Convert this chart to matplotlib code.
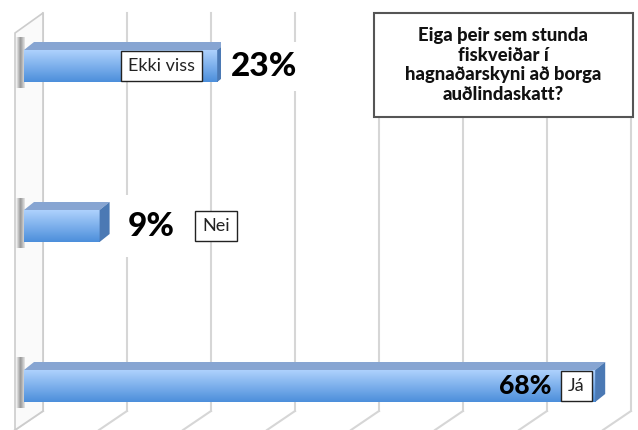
import numpy as np
import matplotlib.pyplot as plt
from matplotlib.patches import Polygon, Rectangle

# data
categories = ['Já', 'Nei', 'Ekki viss']
values = [68, 9, 23]
value_labels = ['68%', '9%', '23%']
grid_ticks = [0, 10, 20, 30, 40, 50, 60, 70]
title = 'Eiga þeir sem stunda\nfiskveiðar í\nhagnaðarskyni að borga\nauðlindaskatt?'

W, H = 638, 430
fig = plt.figure(figsize=(W / 100, H / 100), dpi=100)
ax = fig.add_axes([0, 0, 1, 1])
ax.set_xlim(-43 / 8.4, (W - 43) / 8.4)
ax.set_ylim(-(H - 386) / 160, 386 / 160)
ax.axis('off')

sx = 1 / 8.4   # x data units per pixel
sy = 1 / 160   # y data units per pixel
ytop = ax.get_ylim()[1]


def py(p):
    # pixel row -> y data
    return ytop - p * sy


grid_c = '#d6d6d6'
# back wall gridlines + floor diagonals
for t in grid_ticks:
    ax.plot([t, t], [py(13), py(411)], color=grid_c, lw=1.5, zorder=1)
    ax.plot([t, t - 28 * sx], [py(411), py(430)], color=grid_c, lw=1.5, zorder=1)

# left wall
wall = Polygon([(0, py(13)), (-28 * sx, py(33)), (-28 * sx, py(430)), (0, py(411))],
               closed=True, facecolor='#fafafa', edgecolor='#cccccc', lw=1.2, zorder=1)
ax.add_patch(wall)

# bar gradient
top_c = np.array([0.68, 0.82, 0.99])
bot_c = np.array([0.30, 0.56, 0.86])
grad = np.linspace(0, 1, 64)[:, None, None]
grad_img = top_c * (1 - grad) + bot_c * grad
shade = np.concatenate([np.linspace(0.97, 0.6, 16), np.linspace(0.6, 0.9, 16)])
shade = shade[None, :, None] * np.ones((1, 1, 3))

x0 = -19 * sx
half = 16 * sy
dx, dy = 10 * sx, 8 * sy

for i, (cat, v) in enumerate(zip(categories, values)):
    y = i
    x1 = x0 + v
    # shadow on wall
    ax.imshow(shade, extent=[-27 * sx, -18 * sx, y - half - 6 * sy, y + half + 12 * sy],
              aspect='auto', zorder=2)
    ax.imshow(grad_img, extent=[x0, x1, y - half, y + half], aspect='auto', zorder=3)
    ax.add_patch(Polygon([(x0, y + half), (x0 + dx, y + half + dy), (x1 + dx, y + half + dy), (x1, y + half)],
                         closed=True, facecolor='#87a5d2', edgecolor='none', zorder=3))
    ax.add_patch(Polygon([(x1, y + half), (x1 + dx, y + half + dy), (x1 + dx, y - half + dy), (x1, y - half)],
                         closed=True, facecolor='#4b79b4', edgecolor='none', zorder=3))

box_kw = dict(boxstyle='square,pad=0.4', facecolor='white', edgecolor='#222222', lw=1)
pct_font = dict(family=['Lato', 'DejaVu Sans'], fontweight='black', color='black')
name_font = dict(family=['Lato', 'DejaVu Sans'], fontsize=13, color='#222222')

# Já (inside bar)
v = values[0]
ax.text(x0 + v - 44 * sx, 0, value_labels[0], ha='right', va='center', fontsize=19, zorder=5, **pct_font)
ax.text(x0 + v - 27 * sx, 0, categories[0], ha='left', va='center', bbox=box_kw, zorder=5, **name_font)

# Nei (outside)
v = values[1]
ax.text(x0 + v + 28 * sx, 1, value_labels[1], ha='left', va='center', fontsize=24, zorder=5,
        bbox=dict(boxstyle='square,pad=0.5', facecolor='white', edgecolor='none'), **pct_font)
ax.text(x0 + v + 103 * sx, 1, categories[1], ha='left', va='center', bbox=box_kw, zorder=5, **name_font)

# Ekki viss
v = values[2]
ax.text(x0 + v + 14 * sx, 2, value_labels[2], ha='left', va='center', fontsize=24, zorder=5,
        bbox=dict(boxstyle='square,pad=0.3', facecolor='white', edgecolor='none'), **pct_font)
ax.text(x0 + v - 22 * sx, 2, categories[2], ha='right', va='center', bbox=box_kw, zorder=5, **name_font)

# title box
bx0, bx1 = (374 - 43) * sx, (633 - 43) * sx
ax.add_patch(Rectangle((bx0, py(117)), bx1 - bx0, py(13) - py(117), facecolor='white',
                       edgecolor='#555555', lw=1.5, zorder=6))
ax.text((bx0 + bx1) / 2, (py(13) + py(117)) / 2, title, ha='center', va='center',
        fontsize=13.3, fontweight='black', linespacing=1.2, family=['Lato', 'DejaVu Sans'],
        color='#111111', zorder=7)

fig.savefig('out.png', dpi=100)
